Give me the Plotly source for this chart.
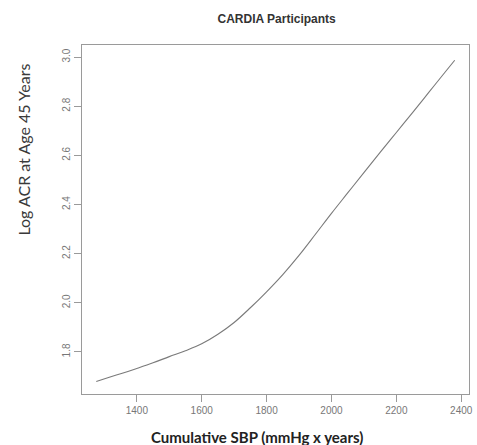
import plotly.graph_objects as go

sbp = [1275, 1350, 1400, 1450, 1500, 1550, 1600, 1650, 1700, 1750, 1800, 1850,
       1900, 1950, 2000, 2050, 2100, 2150, 2200, 2250, 2300, 2350, 2380]
log_acr = [1.680, 1.711, 1.733, 1.756, 1.781, 1.805, 1.833, 1.872, 1.920, 1.980,
           2.045, 2.115, 2.193, 2.278, 2.364, 2.447, 2.530, 2.612, 2.693, 2.774,
           2.856, 2.938, 2.987]
x_ticks = [1400, 1600, 1800, 2000, 2200, 2400]
y_ticks = [1.8, 2.0, 2.2, 2.4, 2.6, 2.8, 3.0]

fig = go.Figure()
fig.add_trace(go.Scatter(x=sbp, y=log_acr, mode="lines", line=dict(color="#7a7a7a", width=1.1, shape="spline"),
                         showlegend=False, hoverinfo="skip"))

axis_common = dict(showgrid=False, zeroline=False, showline=True, mirror=True,
                   linecolor="#9a9a9a", linewidth=1.2, ticks="outside", ticklen=7,
                   tickcolor="#9a9a9a", tickwidth=1,
                   tickfont=dict(family="Liberation Sans, Arial", size=10, color="#777777"))

fig.update_xaxes(range=[1231, 2424], tickvals=x_ticks, ticktext=[str(v) for v in x_ticks], **axis_common)
fig.update_yaxes(range=[1.629, 3.049], tickvals=y_ticks, ticktext=[f"{v:.1f}" for v in y_ticks],
                 tickangle=-90, **axis_common)

fig.update_layout(
    width=477, height=445,
    margin=dict(l=82, r=4, t=45, b=51),
    paper_bgcolor="white", plot_bgcolor="white",
    title=dict(text="<b>CARDIA Participants</b>", x=0.58, xanchor="center", y=0.957, yanchor="middle",
               font=dict(family="Liberation Sans, Arial", size=12, color="#333333")),
    annotations=[
        dict(text="<b>Cumulative SBP (mmHg x years)</b>", xref="paper", yref="paper",
             x=(259 - 82) / 391, y=-(437 - 394) / 349, xanchor="center", yanchor="middle",
             showarrow=False, font=dict(family="Lato, Open Sans", size=15, color="#222222")),
        dict(text="Log ACR at Age 45 Years", xref="paper", yref="paper",
             x=-(82 - 22) / 391, y=(394 - 150) / 349, xanchor="center", yanchor="middle",
             textangle=-90, showarrow=False,
             font=dict(family="Lato, Open Sans", size=16, color="#3a3a3a")),
    ],
)

fig.write_html("out.html", config={"displayModeBar": False},
               post_script="document.body.style.margin='0';document.body.style.overflow='hidden';")
